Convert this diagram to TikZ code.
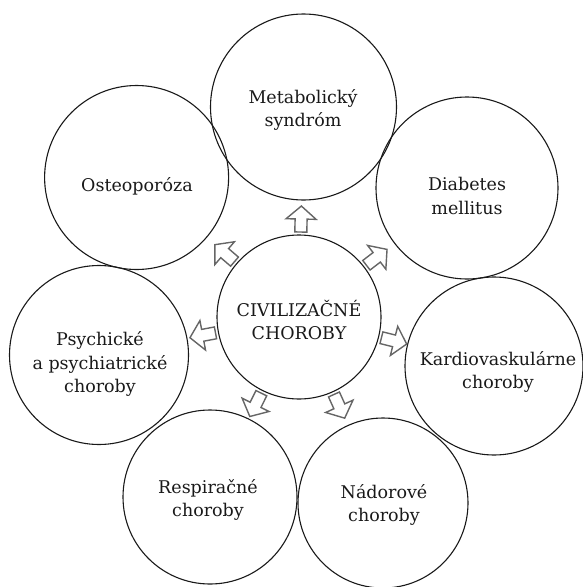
\documentclass[tikz,border=0pt]{standalone}
\usepackage{fontspec}
\setmainfont{DejaVu Serif}
\usetikzlibrary{calc}
\begin{document}
\begin{tikzpicture}[x=1pt,y=-1pt,
  ring/.style={circle, draw=black!90, line width=1.1pt, inner sep=0pt},
  lbl/.style={align=center, font=\fontsize{17.5}{23.5}\selectfont, text=black!90, inner sep=0pt},
  arrowline/.style={draw=black!60, line width=1.4pt, line join=miter, fill=white},
  blockarrow/.pic={\path[arrowline] (-13,-6) -- (0,-6) -- (0,-15) -- (13,0) -- (0,15) -- (0,6) -- (-13,6) -- cycle;}
]
\useasboundingbox (0,0) rectangle (583,587);
% circles
\node[ring, minimum size=164] (c) at (299,317) {};
\node[ring, minimum size=186] (m) at (303.5,107) {};
\node[ring, minimum size=184] (o) at (136.6,177.5) {};
\node[ring, minimum size=182] (d) at (467,188) {};
\node[ring, minimum size=179] (p) at (99,355) {};
\node[ring, minimum size=178] (k) at (494,366) {};
\node[ring, minimum size=174] (r) at (210,497) {};
\node[ring, minimum size=170] (n) at (383,503) {};
% labels
\node[lbl] (ct) at (299,320) {CIVILIZAČNÉ\\CHOROBY};
\node[lbl] (mt) at (303,110) {Metabolický\\syndróm};
\node[lbl] (ot) at (137,186) {Osteoporóza};
\node[lbl] (dt) at (467,196) {Diabetes\\mellitus};
\node[lbl] (pt) at (100,364) {Psychické\\a psychiatrické\\choroby};
\node[lbl] (kt) at (498,372) {Kardiovaskulárne\\choroby};
\node[lbl] (rt) at (208,500) {Respiračné\\choroby};
\node[lbl] (nt) at (384,505) {Nádorové\\choroby};
% block arrows
\foreach \o in {m,o,d,p,k,r,n}
  \path let \p1=($(\o)-(c)$), \n1={atan2(\y1,\x1)} in
    ($(c)!98pt!(\o)$) pic[rotate=\n1] {blockarrow};
\end{tikzpicture}
\end{document}
